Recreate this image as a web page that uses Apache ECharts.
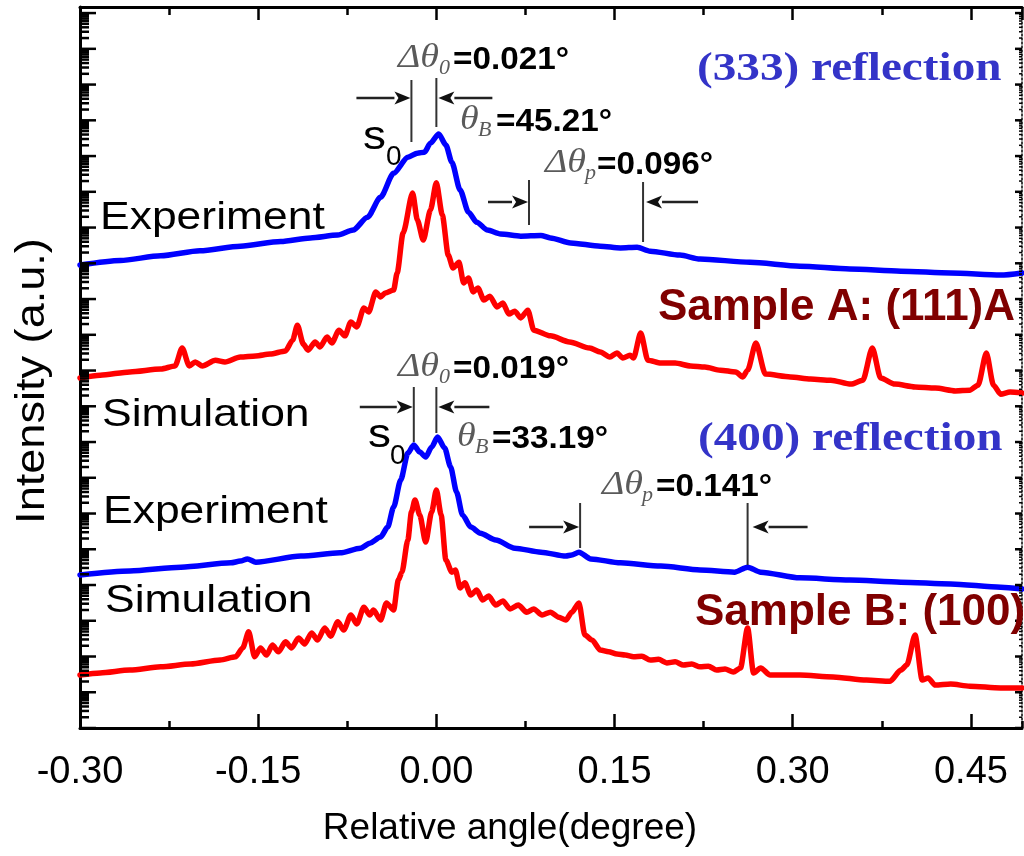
<!DOCTYPE html>
<html>
<head>
<meta charset="utf-8">
<script src="https://cdn.jsdelivr.net/npm/echarts@6/dist/echarts.min.js"></script>
<style>
  html, body { margin: 0; padding: 0; background: #fff; }
  #chart { width: 1024px; height: 856px; }
</style>
</head>
<body>
<div id="chart"></div>
<script>
// Rocking curves: relative angle (degree) and log10 of intensity (a.u.)
// (333) reflection, sample A
const angleExp333 = [-0.300,-0.266,-0.232,-0.199,-0.165,-0.131,-0.106,-0.083,-0.070,-0.058,-0.047,-0.036,-0.024,-0.016,-0.010,-0.005,0.002,0.008,0.013,0.020,0.027,0.034,0.043,0.054,0.071,0.088,0.096,0.113,0.138,0.155,0.169,0.180,0.205,0.222,0.264,0.306,0.348,0.391,0.433,0.475,0.493];
const logExp333   = [12.95,13.08,13.21,13.35,13.48,13.61,13.71,13.79,13.93,14.29,14.85,15.52,15.97,16.08,16.11,16.36,16.62,16.31,15.83,15.05,14.43,14.15,13.93,13.82,13.76,13.78,13.71,13.57,13.48,13.43,13.45,13.34,13.23,13.12,13.03,12.92,12.84,12.78,12.73,12.67,12.73];

const angleSim333 = [-0.300,-0.283,-0.258,-0.232,-0.220,-0.214,-0.208,-0.203,-0.197,-0.186,-0.178,-0.165,-0.152,-0.140,-0.127,-0.121,-0.117,-0.112,-0.108,-0.102,-0.098,-0.092,-0.088,-0.082,-0.077,-0.072,-0.067,-0.061,-0.057,-0.051,-0.047,-0.043,-0.036,-0.033,-0.028,-0.020,-0.016,-0.011,-0.005,0.000,0.005,0.010,0.014,0.019,0.023,0.027,0.031,0.035,0.040,0.045,0.051,0.056,0.061,0.066,0.071,0.077,0.082,0.096,0.112,0.129,0.138,0.146,0.152,0.157,0.163,0.166,0.172,0.178,0.189,0.201,0.214,0.226,0.239,0.252,0.258,0.262,0.269,0.277,0.298,0.315,0.332,0.349,0.359,0.367,0.374,0.386,0.403,0.420,0.437,0.449,0.456,0.463,0.469,0.475,0.483,0.493];
const logSim333   = [9.79,9.87,9.96,10.04,10.13,10.63,10.13,10.24,10.13,10.29,10.24,10.38,10.41,10.46,10.55,10.85,11.27,10.74,10.57,10.80,10.66,10.94,10.77,11.13,10.97,11.36,11.22,11.75,11.64,12.20,12.06,12.17,12.25,12.73,13.85,14.97,14.21,13.65,14.49,15.25,14.35,13.23,12.87,13.03,12.45,12.59,12.20,12.31,11.97,12.08,11.78,11.89,11.58,11.66,11.47,11.69,11.13,10.97,10.80,10.63,10.52,10.38,10.49,10.35,10.43,10.35,11.05,10.29,10.21,10.21,10.13,10.10,10.01,9.96,9.82,10.01,10.77,9.90,9.82,9.76,9.73,9.62,9.73,10.63,9.79,9.62,9.54,9.51,9.43,9.45,9.59,10.49,9.59,9.34,9.40,9.37];

// (400) reflection, sample B
const angleExp400 = [-0.300,-0.258,-0.215,-0.173,-0.165,-0.159,-0.152,-0.114,-0.081,-0.064,-0.056,-0.047,-0.041,-0.036,-0.030,-0.024,-0.019,-0.014,-0.009,-0.004,0.001,0.007,0.012,0.017,0.022,0.029,0.037,0.050,0.066,0.088,0.109,0.114,0.120,0.130,0.155,0.189,0.222,0.251,0.262,0.273,0.306,0.348,0.391,0.433,0.475,0.493];
const logExp400   = [4.28,4.39,4.50,4.62,4.67,4.73,4.64,4.81,4.90,5.03,5.17,5.34,5.62,6.18,6.94,7.69,7.92,7.72,7.58,7.86,8.14,7.83,7.30,6.60,5.96,5.62,5.45,5.26,5.03,4.92,4.81,4.84,4.92,4.73,4.62,4.53,4.42,4.36,4.50,4.36,4.20,4.14,4.08,4.03,3.94,3.89];

const angleSim400 = [-0.300,-0.283,-0.258,-0.232,-0.207,-0.182,-0.169,-0.163,-0.158,-0.153,-0.148,-0.143,-0.138,-0.133,-0.127,-0.122,-0.116,-0.111,-0.105,-0.100,-0.094,-0.089,-0.083,-0.078,-0.072,-0.067,-0.061,-0.056,-0.053,-0.047,-0.042,-0.036,-0.032,-0.029,-0.024,-0.021,-0.018,-0.014,-0.009,-0.004,0.000,0.004,0.008,0.013,0.016,0.020,0.024,0.029,0.034,0.039,0.044,0.050,0.056,0.062,0.069,0.076,0.082,0.089,0.096,0.103,0.109,0.114,0.120,0.125,0.131,0.138,0.145,0.152,0.159,0.166,0.173,0.180,0.187,0.194,0.201,0.208,0.215,0.222,0.229,0.236,0.243,0.250,0.256,0.262,0.267,0.273,0.281,0.306,0.334,0.362,0.382,0.391,0.396,0.403,0.409,0.414,0.420,0.433,0.449,0.475,0.493];
const logSim400   = [1.48,1.54,1.62,1.71,1.79,1.90,1.99,2.24,2.69,1.99,2.24,2.04,2.32,2.13,2.41,2.24,2.52,2.35,2.66,2.46,2.80,2.57,2.97,2.74,3.16,2.91,3.38,3.16,3.30,3.02,3.50,3.30,4.14,4.36,5.26,6.04,6.38,5.96,5.20,6.04,6.66,5.96,4.70,4.36,4.42,3.92,4.06,3.72,3.86,3.58,3.69,3.44,3.55,3.33,3.44,3.24,3.33,3.16,3.24,3.10,3.02,3.24,3.50,2.60,2.46,2.18,2.13,2.07,2.04,1.99,2.01,1.90,1.92,1.82,1.85,1.76,1.79,1.71,1.73,1.62,1.65,1.57,1.68,2.80,1.54,1.68,1.48,1.48,1.43,1.34,1.31,1.62,1.76,2.60,1.34,1.40,1.20,1.23,1.17,1.12,1.12];

// Axis tick labels along the angle axis
const angleTickLabels = ['-0.30', '-0.15', '0.00', '0.15', '0.30', '0.45'];

// Peak separations written on the plot (degree)
const dTheta0_333 = 0.021, dThetaP_333 = 0.096, thetaB_333 = 45.21;
const dTheta0_400 = 0.019, dThetaP_400 = 0.141, thetaB_400 = 33.19;
const satStart333 = 0.078, satStart400 = 0.121;

const SANS = '"Liberation Sans", Arial, Helvetica, sans-serif';
const SERIF = '"Liberation Serif", "Times New Roman", serif';
const X_MIN = -0.30, X_MAX = 0.493, LOG_MAX = 20.17;

const toPoints = (xs, ls) => xs.map((x, i) => [x, Math.pow(10, ls[i])]);

// decade and sub-decade tick positions of the log intensity axis
const yTicks = [];
for (let n = 0; n <= 20; n++) {
  yTicks.push([X_MIN, Math.pow(10, n), 1]);
  for (let k = 2; k <= 9; k++) {
    const v = n + Math.log10(k);
    if (v < LOG_MAX) yTicks.push([X_MIN, Math.pow(10, v), 0]);
  }
}

const chart = echarts.init(document.getElementById('chart'));

const frameX = (position, interval, len, showLine) => ({
  type: 'value', position, min: X_MIN, max: X_MAX, interval,
  axisLine: { show: showLine, onZero: false, lineStyle: { color: '#000', width: 3 } },
  axisTick: { show: true, inside: true, length: len, lineStyle: { color: '#000', width: 2.5 } },
  axisLabel: { show: false }, splitLine: { show: false }
});

const curve = (name, xs, ls, color) => ({
  name, type: 'line', data: toPoints(xs, ls), showSymbol: false, symbol: 'none',
  smooth: 0.25, smoothMonotone: 'x', z: 3, animation: false,
  lineStyle: { color, width: 5.5, join: 'round', cap: 'round' }
});

chart.setOption({
  animation: false,
  backgroundColor: '#fff',
  grid: { left: 80, right: 2, top: 7, bottom: 128, containLabel: false },
  xAxis: [
    {
      type: 'value', position: 'bottom', min: X_MIN, max: X_MAX, interval: 0.15,
      axisLine: { show: true, onZero: false, lineStyle: { color: '#000', width: 3 } },
      axisTick: { show: true, inside: true, length: 14, lineStyle: { color: '#000', width: 2.5 } },
      axisLabel: {
        show: true, margin: 26, color: '#000', fontFamily: SANS, fontSize: 38,
        showMaxLabel: false,
        formatter: v => {
          const k = Math.round((v - X_MIN) / 0.15);
          return Math.abs(v - (X_MIN + k * 0.15)) < 1e-6 ? (angleTickLabels[k] || '') : '';
        }
      },
      splitLine: { show: false }
    },
    frameX('bottom', 0.075, 7, false),
    frameX('top', 0.15, 13, true),
    frameX('top', 0.075, 8, false)
  ],
  yAxis: [
    {
      type: 'log', logBase: 10, min: 1, max: Math.pow(10, LOG_MAX), position: 'left',
      axisLine: { show: true, onZero: false, lineStyle: { color: '#000', width: 3 } },
      axisTick: { show: false }, axisLabel: { show: false }, splitLine: { show: false }
    },
    {
      type: 'log', logBase: 10, min: 1, max: Math.pow(10, LOG_MAX), position: 'right',
      axisLine: { show: true, onZero: false, lineStyle: { color: '#000', width: 1.5, type: [2, 2] } },
      axisTick: { show: false }, axisLabel: { show: false }, splitLine: { show: false }
    }
  ],
  series: [
    curve('Experiment (333)', angleExp333, logExp333, '#0000ff'),
    curve('Simulation (333)', angleSim333, logSim333, '#ff0000'),
    curve('Experiment (400)', angleExp400, logExp400, '#0000ff'),
    curve('Simulation (400)', angleSim400, logSim400, '#ff0000'),
    {
      type: 'custom', silent: true, z: 6, clip: false, data: yTicks, encode: { x: 0, y: 1 },
      renderItem(params, api) {
        const y = api.coord([X_MIN, api.value(1)])[1];
        const cs = params.coordSys;
        const major = api.value(2) === 1;
        return {
          type: 'group', children: [
            { type: 'line', shape: { x1: cs.x, y1: y, x2: cs.x + (major ? 16 : 9), y2: y },
              style: { stroke: '#000', lineWidth: 2.5 } },
            { type: 'line', shape: { x1: cs.x + cs.width, y1: y, x2: cs.x + cs.width - (major ? 7 : 3), y2: y },
              style: { stroke: '#000', lineWidth: major ? 2.5 : 1.5 } }
          ]
        };
      }
    }
  ]
});

// ---------- annotations ----------
const px = v => chart.convertToPixel({ xAxisIndex: 0 }, v);

function text(str, x, y, o) {
  return {
    type: 'text', x, y, scaleX: o.sx || 1, rotation: o.rot || 0, silent: true, z: 20,
    style: {
      text: str, fill: o.color || '#000', fontFamily: o.family || SANS, fontSize: o.size,
      fontWeight: o.weight || 'normal', fontStyle: o.style || 'normal',
      align: o.align || 'left', verticalAlign: 'middle',
      textAlign: o.align || 'left', textVerticalAlign: 'middle'
    }
  };
}
function vline(x, y1, y2) {
  return { type: 'line', silent: true, z: 20, shape: { x1: x, y1, x2: x, y2 }, style: { stroke: '#333', lineWidth: 2 } };
}
function arrow(tipX, y, dir, len) {
  const head = 16, hw = 6.5;
  return [
    { type: 'line', silent: true, z: 20, shape: { x1: tipX - dir * len, y1: y, x2: tipX - dir * head, y2: y },
      style: { stroke: '#222', lineWidth: 2.5 } },
    { type: 'polygon', silent: true, z: 20,
      shape: { points: [[tipX, y], [tipX - dir * head, y - hw], [tipX - dir * (head - 4), y], [tipX - dir * head, y + hw]] },
      style: { fill: '#111' } }
  ];
}
const GRAY = '#5a5a5a';
function formula(sym, sub, value, x, y, subDx, valDx) {
  return [
    text(sym, x, y - 2, { family: SERIF, style: 'italic', size: 34, color: GRAY, sx: 1.12 }),
    text(sub, x + subDx, y + 8, { family: SERIF, style: 'italic', size: 22, color: GRAY }),
    text(value, x + valDx, y, { weight: 'bold', size: 32, color: '#000', sx: 1.04 })
  ];
}

const g = [];
// (333) group
const a0 = px(-dTheta0_333), a1 = px(0);
g.push(vline(a0, 80, 142), vline(a1, 78, 127));
g.push(...arrow(a0 - 1, 98, 1, 54), ...arrow(a1 + 2, 98, -1, 54));
const p0 = px(satStart333), p1 = px(satStart333 + dThetaP_333);
g.push(vline(p0, 180, 225), vline(p1, 182, 242));
g.push(...arrow(p0 - 1, 202, 1, 40), ...arrow(p1 + 3, 202, -1, 52));
g.push(...formula('\u0394\u03b8', '0', '=' + dTheta0_333.toFixed(3) + '\u00b0', 398, 60, 41, 55));
g.push(...formula('\u03b8', 'B', '=' + thetaB_333.toFixed(2) + '\u00b0', 460, 122, 18, 36));
g.push(...formula('\u0394\u03b8', 'p', '=' + dThetaP_333.toFixed(3) + '\u00b0', 545, 165, 40, 52));
g.push(text('s', 363, 138, { size: 41, sx: 1.12 }), text('0', 386, 157, { size: 28 }));

// (400) group
const b0 = px(-dTheta0_400), b1 = px(0);
g.push(vline(b0, 387, 442), vline(b1, 387, 433));
g.push(...arrow(b0 - 1, 407, 1, 53), ...arrow(b1 + 2, 407, -1, 51));
const q0 = px(satStart400), q1 = px(satStart400 + dThetaP_400);
g.push(vline(q0, 503, 548), vline(q1, 503, 565));
g.push(...arrow(q0 - 1, 527, 1, 50), ...arrow(q1 + 5, 527, -1, 55));
g.push(...formula('\u0394\u03b8', '0', '=' + dTheta0_400.toFixed(3) + '\u00b0', 398, 369, 41, 55));
g.push(...formula('\u03b8', 'B', '=' + thetaB_400.toFixed(2) + '\u00b0', 457, 439, 18, 35));
g.push(...formula('\u0394\u03b8', 'p', '=' + dThetaP_400.toFixed(3) + '\u00b0', 602, 487, 40, 54));
g.push(text('s', 368, 436, { size: 41, sx: 1.12 }), text('0', 390, 456, { size: 28 }));

// curve labels
g.push(text('Experiment', 100, 218, { size: 39, sx: 1.14 }));
g.push(text('Simulation', 102, 415, { size: 39, sx: 1.14 }));
g.push(text('Experiment', 103, 512, { size: 39, sx: 1.14 }));
g.push(text('Simulation', 105, 601, { size: 39, sx: 1.14 }));
g.push(text('(333) reflection', 697, 70, { family: SERIF, weight: 'bold', size: 40, sx: 1.18, color: '#3434c8' }));
g.push(text('(400) reflection', 698, 440, { family: SERIF, weight: 'bold', size: 40, sx: 1.18, color: '#3434c8' }));
g.push(text('Sample A: (111)A', 658, 308, { weight: 'bold', size: 44, color: '#800000' }));
g.push(text('Sample B: (100)', 695, 613, { weight: 'bold', size: 44, color: '#800000' }));

// axis titles
g.push(text('Intensity (a.u.)', 33, 381, { size: 41, sx: 1.1, rot: Math.PI / 2, align: 'center' }));
g.push(text('Relative angle(degree)', 510, 829, { size: 37, align: 'center' }));

chart.setOption({ graphic: g });
</script>
</body>
</html>
